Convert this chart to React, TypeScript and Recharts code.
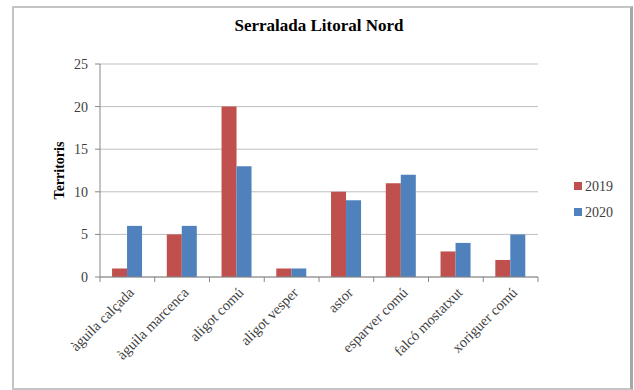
import React from "react";
import { BarChart, Bar, XAxis, YAxis, CartesianGrid, Legend } from "recharts";

const categories = [
  "àguila calçada",
  "àguila marcenca",
  "aligot comú",
  "aligot vesper",
  "astor",
  "esparver comú",
  "falcó mostatxut",
  "xoriguer comú",
];
const values2019 = [1, 5, 20, 1, 10, 11, 3, 2];
const values2020 = [6, 6, 13, 1, 9, 12, 4, 5];
const yTicks = [0, 5, 10, 15, 20, 25];
const seriesNames = ["2019", "2020"];
const colors = ["#C0504D", "#4F81BD"];

const data = categories.map((c, i) => ({
  name: c,
  [seriesNames[0]]: values2019[i],
  [seriesNames[1]]: values2020[i],
}));

const FONT = "'Liberation Serif', 'DejaVu Serif', serif";

const CategoryTick = (props: any) => {
  const { x, y, payload, index } = props;
  const off = payload && payload.offset ? payload.offset : 0;
  const last = index === categories.length - 1;
  return (
    <g>
      <line x1={x - off} y1={y} x2={x - off} y2={y + 5} stroke="#868686" strokeWidth={1} />
      {last && (
        <line x1={x + off} y1={y} x2={x + off} y2={y + 5} stroke="#868686" strokeWidth={1} />
      )}
      <text
        x={x + 4}
        y={y + 13}
        transform={`rotate(-45, ${x + 4}, ${y + 13})`}
        textAnchor="end"
        dominantBaseline="central"
        fontFamily={FONT}
        fontSize={14.5}
        fill="#404040"
      >
        {payload.value}
      </text>
    </g>
  );
};

const LegendContent = (props: any) => {
  const { payload } = props;
  const items = payload || [];
  return (
    <svg width={50} height={items.length * 26} style={{ display: "block" }}>
      {items.map((p: any, i: number) => (
        <g key={i}>
          <rect x={1} y={i * 26 + 9} width={8} height={8} fill={p.color} />
          <text
            x={12}
            y={i * 26 + 13}
            dominantBaseline="central"
            fontFamily={FONT}
            fontSize={14}
            fill="#404040"
          >
            {p.value}
          </text>
        </g>
      ))}
    </svg>
  );
};

export default function App() {
  return (
    <div style={{ position: "absolute", left: 0, top: 0, width: 634, height: 390, background: "#fff" }}>
      <div
        style={{
          position: "absolute",
          left: 12,
          top: 6,
          width: 616,
          height: 380,
          borderTop: "2px solid #C4C4C4",
          borderLeft: "2px solid #C4C4C4",
          borderBottom: "2px solid #C4C4C4",
          borderRight: "3px solid #A6A6A6",
        }}
      />
      <div
        style={{
          position: "absolute",
          left: 0,
          width: 638,
          top: 16,
          textAlign: "center",
          fontFamily: FONT,
          fontWeight: "bold",
          fontSize: 17,
          color: "#000",
        }}
      >
        Serralada Litoral Nord
      </div>
      <div style={{ position: "absolute", left: 0, top: 0 }}>
        <BarChart
          width={634}
          height={390}
          data={data}
          margin={{ top: 64, right: 46, bottom: 0, left: 18 }}
          barCategoryGap="22%"
          barGap={0}
        >
          <CartesianGrid vertical={false} stroke="#BFBFBF" strokeWidth={1} />
          <XAxis
            dataKey="name"
            height={113}
            interval={0}
            tickLine={false}
            tickSize={0}
            tickMargin={0}
            axisLine={{ stroke: "#868686" }}
            tick={<CategoryTick />}
          />
          <YAxis
            width={82}
            domain={[0, 25]}
            ticks={yTicks}
            interval={0}
            tickSize={5}
            tickMargin={7}
            axisLine={{ stroke: "#868686" }}
            tickLine={{ stroke: "#868686" }}
            tick={{ fontFamily: FONT, fontSize: 14, fill: "#404040" }}
            label={{
              value: "Territoris",
              angle: -90,
              position: "center",
              style: { fontFamily: FONT, fontWeight: "bold", fontSize: 14, fill: "#000" },
            }}
          />
          <Legend
            layout="vertical"
            align="right"
            verticalAlign="middle"
            content={<LegendContent />}
            wrapperStyle={{ left: 573, top: 173, right: "auto", width: 50 }}
          />
          <Bar dataKey={seriesNames[0]} fill={colors[0]} isAnimationActive={false} />
          <Bar dataKey={seriesNames[1]} fill={colors[1]} isAnimationActive={false} />
        </BarChart>
      </div>
    </div>
  );
}
